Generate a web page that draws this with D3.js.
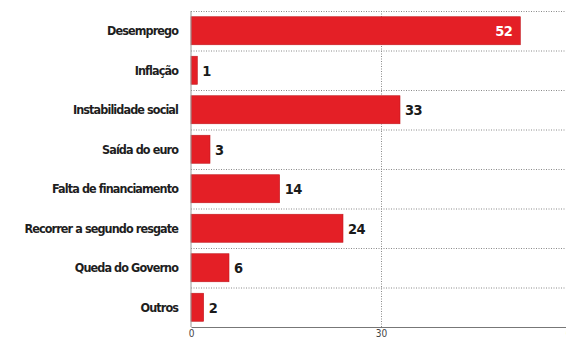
<!DOCTYPE html>
<html>
<head>
<meta charset="utf-8">
<script src="https://cdn.jsdelivr.net/npm/d3@7"></script>
<style>
  html, body { margin: 0; padding: 0; background: #fff; }
  svg { display: block; }
</style>
</head>
<body>
<svg id="chart" width="566" height="340"></svg>
<script>
// Survey answers: share of respondents per concern (%)
const categories = [
  "Desemprego",
  "Inflação",
  "Instabilidade social",
  "Saída do euro",
  "Falta de financiamento",
  "Recorrer a segundo resgate",
  "Queda do Governo",
  "Outros"
];
const values = [52, 1, 33, 3, 14, 24, 6, 2];
const tickValues = [0, 30, 60];

const svg = d3.select("#chart");
const margin = { top: 11, left: 191 };
const innerH = 316;

const x = d3.scaleLinear().domain([0, 60]).range([margin.left, margin.left + 380]);
const y = d3.scaleBand().domain(categories)
  .range([margin.top, margin.top + innerH])
  .paddingInner(0.29).paddingOuter(0.145);

const labelFont = "'DejaVu Sans Condensed', sans-serif";

// horizontal dotted separators between rows
const step = y.step();
const seps = d3.range(categories.length).map(i => margin.top + i * step);
svg.append("g").selectAll("line").data(seps).join("line")
  .attr("x1", margin.left).attr("x2", 566)
  .attr("y1", d => d + 0.5).attr("y2", d => d + 0.5)
  .attr("stroke", "#8a8a8a").attr("stroke-width", 1)
  .attr("stroke-dasharray", "1,1.5");

// vertical dotted grid at inner ticks
svg.append("g").selectAll("line").data(tickValues.filter(t => t > 0)).join("line")
  .attr("x1", d => Math.round(x(d)) + 0.5).attr("x2", d => Math.round(x(d)) + 0.5)
  .attr("y1", margin.top).attr("y2", margin.top + innerH)
  .attr("stroke", "#8a8a8a").attr("stroke-width", 1)
  .attr("stroke-dasharray", "1,1.5");

// bars
svg.append("g").selectAll("rect").data(values).join("rect")
  .attr("x", x(0))
  .attr("y", (d, i) => y(categories[i]))
  .attr("width", d => x(d) - x(0))
  .attr("height", y.bandwidth())
  .attr("fill", "#e41f26")
  .attr("stroke", "#c21a20").attr("stroke-width", 0.6);

// value labels: inside the longest bar, outside the others
svg.append("g").selectAll("text").data(values).join("text")
  .attr("x", (d, i) => d >= 45 ? x(d) - 8 : x(d) + 5)
  .attr("y", (d, i) => y(categories[i]) + y.bandwidth() / 2)
  .attr("dy", "0.38em")
  .attr("text-anchor", d => d >= 45 ? "end" : "start")
  .attr("font-family", labelFont)
  .attr("font-weight", "bold")
  .attr("font-size", 14.5)
  .attr("letter-spacing", -0.6)
  .attr("fill", d => d >= 45 ? "#fff" : "#1a1a1a")
  .text(d => d);

// category labels
svg.append("g").selectAll("text").data(categories).join("text")
  .attr("x", 178)
  .attr("y", d => y(d) + y.bandwidth() / 2)
  .attr("dy", "0.36em")
  .attr("text-anchor", "end")
  .attr("font-family", labelFont)
  .attr("font-weight", "bold")
  .attr("font-size", 12.5)
  .attr("letter-spacing", -0.9)
  .attr("fill", "#1e1e1e")
  .text(d => d);

// x axis
const axis = svg.append("g")
  .attr("transform", `translate(0,${margin.top + innerH})`)
  .call(d3.axisBottom(x).tickValues(tickValues).tickSize(0).tickPadding(3));
axis.select(".domain").attr("stroke", "#777").attr("stroke-width", 1.2);
axis.selectAll("text")
  .attr("font-family", labelFont)
  .attr("font-size", 10)
  .attr("fill", "#444");

// left baseline
svg.append("line")
  .attr("x1", x(0)).attr("x2", x(0))
  .attr("y1", margin.top).attr("y2", margin.top + innerH)
  .attr("stroke", "#999").attr("stroke-width", 1);
</script>
</body>
</html>
